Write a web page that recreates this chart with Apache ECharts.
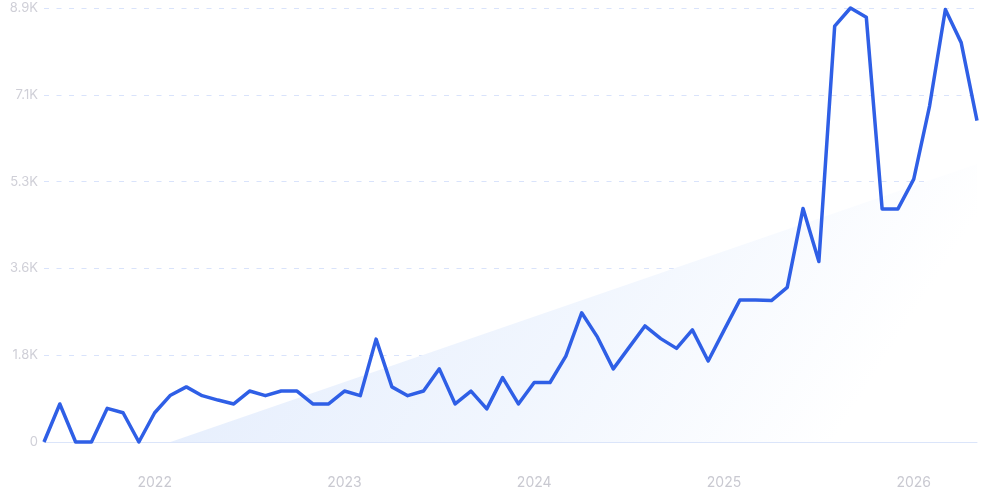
<!DOCTYPE html>
<html>
<head>
<meta charset="utf-8">
<script src="https://cdn.jsdelivr.net/npm/echarts@6/dist/echarts.min.js"></script>
<style>
  html, body { margin: 0; padding: 0; background: #fff; }
  #chart { width: 981px; height: 500px; }
</style>
</head>
<body>
<div id="chart"></div>
<script>
// monthly points, 2021-06 .. 2026-05
const months = [
  '2021-06','2021-07','2021-08','2021-09','2021-10','2021-11','2021-12',
  '2022-01','2022-02','2022-03','2022-04','2022-05','2022-06','2022-07','2022-08','2022-09','2022-10','2022-11','2022-12',
  '2023-01','2023-02','2023-03','2023-04','2023-05','2023-06','2023-07','2023-08','2023-09','2023-10','2023-11','2023-12',
  '2024-01','2024-02','2024-03','2024-04','2024-05','2024-06','2024-07','2024-08','2024-09','2024-10','2024-11','2024-12',
  '2025-01','2025-02','2025-03','2025-04','2025-05','2025-06','2025-07','2025-08','2025-09','2025-10','2025-11','2025-12',
  '2026-01','2026-02','2026-03','2026-04','2026-05'
];
const searches = [
  0, 780, 0, 0, 690, 600, 0,
  600, 960, 1130, 950, 860, 780, 1045, 950, 1045, 1045, 780, 780,
  1045, 950, 2110, 1130, 950, 1045, 1500, 780, 1045, 680, 1320, 780,
  1220, 1220, 1760, 2650, 2150, 1500, 1940, 2380, 2120, 1920, 2300, 1660,
  2290, 2910, 2910, 2900, 3170, 4790, 3700, 8530, 8900, 8710, 4780, 4780,
  5390, 6890, 8870, 8190, 6590
];
// trend endpoints
const trendStart = ['2022-02', 0];
const trendEnd = ['2026-05', 5700];
const yTicks = ['0', '1.8K', '3.6K', '5.3K', '7.1K', '8.9K'];
const yMax = 8900;
const yStep = 1780;

const chart = echarts.init(document.getElementById('chart'));
chart.setOption({
  animation: false,
  grid: { left: 44, right: 4, top: 8, bottom: 58 },
  xAxis: {
    type: 'category',
    data: months,
    boundaryGap: false,
    axisLine: { show: true, lineStyle: { color: '#dbe5fa', width: 1 } },
    axisTick: { show: false },
    splitLine: { show: false },
    axisLabel: {
      margin: 34,
      color: '#c9c9d1',
      fontFamily: 'Inter',
      fontSize: 14,
      interval: (i, v) => v.endsWith('-01'),
      formatter: v => v.slice(0, 4)
    }
  },
  yAxis: {
    type: 'value',
    min: 0,
    max: yMax,
    interval: yStep,
    axisLine: { show: false },
    axisTick: { show: false },
    axisLabel: {
      margin: 6,
      color: '#cfcfd7',
      fontFamily: 'Inter',
      fontSize: 13,
      formatter: v => yTicks[Math.round(v / yStep)]
    },
    splitLine: {
      show: true,
      lineStyle: { color: '#d9e3fb', type: [5, 7.5], width: 1 }
    }
  },
  series: [
    {
      name: 'trend',
      type: 'line',
      data: [trendStart, trendEnd],
      symbol: 'none',
      silent: true,
      lineStyle: { width: 0 },
      areaStyle: {
        opacity: 1,
        color: new echarts.graphic.LinearGradient(0, 0, 0.74, 1.37, [
          { offset: 0, color: '#e0ebfc' },
          { offset: 0.2, color: '#e7effd' },
          { offset: 0.6, color: '#f1f6fe' },
          { offset: 1, color: '#ffffff' }
        ])
      },
      z: 1
    },
    {
      name: 'searches',
      type: 'line',
      data: searches,
      symbol: 'none',
      clip: false,
      lineStyle: { color: '#2f5fe6', width: 3.5, join: 'round' },
      z: 3
    }
  ]
});
</script>
</body>
</html>
